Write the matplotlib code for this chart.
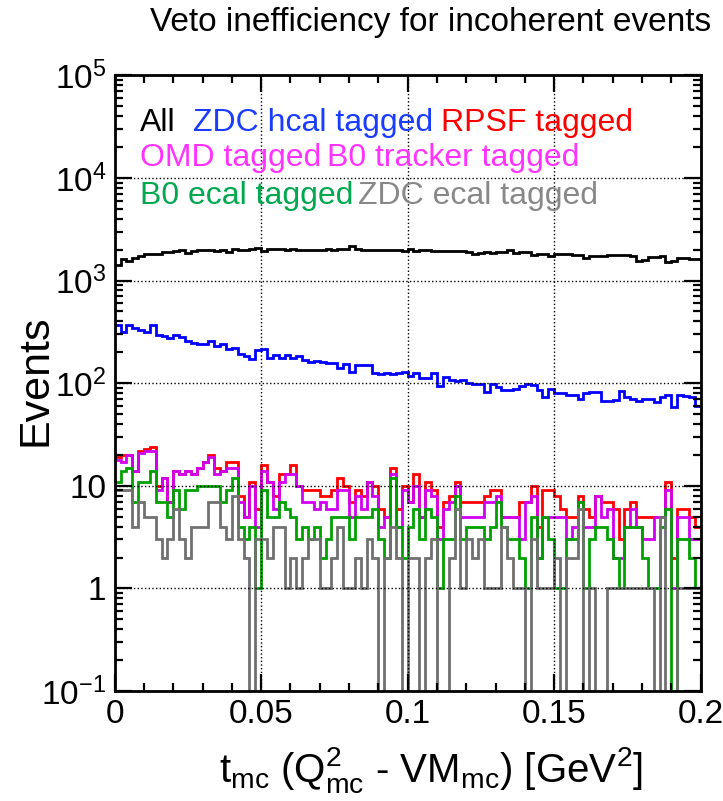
import numpy as np
import matplotlib
matplotlib.use("Agg")
import matplotlib.pyplot as plt
from matplotlib.ticker import FixedLocator, MultipleLocator, LogLocator, FuncFormatter

plt.rcParams["font.family"] = ["Liberation Sans", "DejaVu Sans"]
plt.rcParams["mathtext.fontset"] = "custom"
plt.rcParams["mathtext.rm"] = "Liberation Sans"
plt.rcParams["mathtext.it"] = "Liberation Sans:italic"

# 100 bins from 0 to 0.2
t_edges = np.linspace(0, 0.2, 101)

all_events = [1430, 1630, 1550, 1670, 1720, 1800, 1830, 1830, 1880, 1880,
              1930, 1970, 1870, 1950, 2000, 1990, 2000, 1960, 2000, 1890,
              2010, 1990, 1980, 2050, 2080, 1960, 2030, 2010, 2020, 1980,
              2020, 2000, 1990, 1970, 2000, 1990, 2010, 2000, 2030, 2040,
              2150, 2030, 2000, 1990, 1990, 1970, 2000, 1970, 1990, 1950,
              2040, 1930, 1970, 1980, 1960, 1930, 1950, 1920, 1940, 1930,
              1900, 1800, 1860, 1880, 1850, 1900, 1910, 1980, 1860, 1880,
              1890, 1770, 1820, 1830, 1740, 1830, 1830, 1800, 1790, 1760,
              1670, 1720, 1720, 1750, 1760, 1770, 1790, 1790, 1720, 1560,
              1570, 1700, 1700, 1740, 1530, 1540, 1660, 1670, 1620, 1620]

zdc_hcal = [366, 315, 366, 345, 330, 312, 366, 297, 285, 273,
            295, 281, 257, 248, 242, 242, 257, 228, 242, 217,
            222, 191, 184, 173, 209, 217, 177, 187, 177, 187,
            177, 183, 168, 161, 164, 161, 158, 157, 142, 154,
            128, 151, 149, 151, 125, 122, 125, 124, 125, 128,
            117, 125, 112, 112, 125, 93, 115, 107, 105, 108,
            100, 98, 98, 82, 99, 92, 86, 86, 87, 93,
            99, 97, 86, 74, 88, 80, 80, 76, 76, 70,
            80, 82, 82, 67, 67, 68, 83, 74, 70, 67,
            70, 70, 65, 74, 77, 58, 77, 75, 74, 60]

rpsf = [19, 20, 20, 14, 22, 23, 24, 10, 12, 7,
        14, 13, 14, 13, 15, 17, 20, 15, 14, 17,
        17, 8, 5, 11, 6, 16, 11, 8, 13, 13,
        16, 10, 9, 9, 9, 8, 8, 9, 12, 10,
        7, 9, 8, 11, 10, 6, 5, 15, 6, 10,
        7, 13, 5, 11, 9, 4, 7, 8, 11, 7,
        7, 7, 7, 8, 9, 9, 5, 5, 5, 7,
        7, 10, 4, 9, 9, 8, 6, 5, 5, 8,
        6, 5, 8, 7, 7, 6, 3, 6, 7, 5,
        5, 5, 5, 5, 11, 2, 6, 6, 5, 4]

b0_tracker = [18, 17, 20, 14, 21, 22, 22, 9, 12, 7,
              14, 13, 14, 13, 15, 17, 19, 13, 14, 15,
              15, 7, 5, 10, 4, 14, 11, 6, 11, 13,
              13, 10, 7, 7, 6, 7, 6, 6, 9, 9,
              5, 8, 6, 11, 8, 4, 5, 13, 4, 9,
              7, 10, 5, 9, 8, 3, 6, 7, 10, 5,
              5, 5, 5, 7, 7, 8, 5, 5, 5, 3,
              7, 8, 2, 5, 5, 5, 5, 3, 4, 7,
              4, 4, 8, 5, 6, 2, 2, 4, 6, 4,
              3, 3, 5, 5, 9, 1, 5, 5, 3, 3]

b0_ecal = [11, 14, 15, 7, 11, 11, 14, 7, 7, 5,
           9, 6, 9, 9, 10, 10, 10, 10, 7, 9,
           12, 4, 3, 4, 1, 9, 5, 5, 7, 6,
           5, 3, 4, 3, 4, 2, 3, 5, 5, 5,
           3, 5, 5, 5, 6, 3, 2, 12, 4, 2,
           4, 6, 3, 6, 5, 1, 3, 3, 8, 3,
           4, 4, 4, 3, 4, 7, 4, 3, 3, 2,
           1, 5, 2, 5, 3, 1, 1, 3, 3, 7,
           1, 3, 4, 4, 3, 2, 1, 4, 4, 4,
           2, 1, 1, 4, 6, 0, 3, 3, 2, 1]

zdc_ecal = [9, 9, 9, 4, 7, 5, 5, 3, 2, 3,
            6, 3, 2, 4, 4, 4, 7, 7, 4, 3,
            8, 3, 2, 0, 3, 3, 2, 4, 4, 1,
            2, 1, 2, 3, 3, 1, 1, 2, 4, 1,
            1, 2, 1, 3, 2, 0, 2, 4, 2, 0,
            2, 2, 0, 2, 3, 0, 0, 2, 6, 1,
            3, 2, 3, 1, 1, 1, 4, 2, 1, 1,
            0, 3, 1, 1, 1, 2, 0, 2, 2, 6,
            0, 1, 0, 0, 1, 1, 1, 1, 1, 1,
            1, 1, 0, 5, 0, 0, 1, 1, 1, 1]

fig = plt.figure(figsize=(7.23, 8.01), dpi=100)
ax = fig.add_axes([0.1586, 0.1373, 0.8104, 0.7687])

ax.stairs(all_events, t_edges, color="black", lw=2, baseline=None)
ax.stairs(zdc_hcal, t_edges, color="#0000ff", lw=2, baseline=None)
ax.stairs(rpsf, t_edges, color="#ff0000", lw=2, baseline=None)
ax.stairs(b0_tracker, t_edges, color="#d000f0", lw=2, baseline=None)
ax.stairs(b0_ecal, t_edges, color="#00a000", lw=2, baseline=None)
ax.stairs(zdc_ecal, t_edges, color="#707070", lw=2, baseline=None)

ax.set_yscale("log")
ax.set_xlim(0, 0.2)
ax.set_ylim(0.1, 1e5)

ax.xaxis.set_major_locator(MultipleLocator(0.05))
ax.xaxis.set_minor_locator(MultipleLocator(0.01))
ax.xaxis.set_major_formatter(FuncFormatter(lambda v, p: "%g" % round(v, 3)))
ax.yaxis.set_major_locator(FixedLocator([0.1, 1, 10, 100, 1e3, 1e4, 1e5]))
ax.yaxis.set_minor_locator(LogLocator(base=10, subs=np.arange(2, 10), numticks=20))


def ylab(v, p):
    if v == 1:
        return "1"
    if v == 10:
        return "10"
    e = int(round(np.log10(v)))
    return r"10$^{\mathregular{%d}}$" % e if e > 0 else r"10$^{\mathregular{-1}}$"


ax.yaxis.set_major_formatter(FuncFormatter(ylab))

ax.tick_params(which="both", direction="in", top=True, right=True, width=1.6)
ax.tick_params(which="major", length=12, labelsize=24, pad=6)
ax.tick_params(which="minor", length=6)
for s in ax.spines.values():
    s.set_linewidth(2)

ax.grid(True, which="major", ls=":", color="black", lw=1)

fig.text(431 / 723, 1 - 22 / 801, "Veto inefficiency for incoherent events",
         fontsize=24, ha="center", va="center")
fig.text(35 / 723, 1 - 380 / 801, "Events", fontsize=31, rotation=90,
         ha="center", va="center")
fig.text(431 / 723, 1 - 770 / 801,
         r"t$_{\mathregular{mc}}$ (Q$^{\mathregular{2}}_{\mathregular{mc}}$ - VM$_{\mathregular{mc}}$) [GeV$^{\mathregular{2}}$]",
         fontsize=29, ha="center", va="center")

# legend as coloured text
legend_rows = [
    [(140, "All", "black"), (193, "ZDC hcal tagged", "#1a3cff"), (441, "RPSF tagged", "#ff0000")],
    [(140, "OMD tagged", "#ff33ff"), (327, "B0 tracker tagged", "#ff33ff")],
    [(140, "B0 ecal tagged", "#00a84f"), (358, "ZDC ecal tagged", "#888888")],
]
row_y = [123, 158, 196]
for yy, row in zip(row_y, legend_rows):
    for xx, txt, col in row:
        fig.text(xx / 723, 1 - yy / 801, txt, color=col, fontsize=23,
                 ha="left", va="center")

fig.savefig("out.png", dpi=100)
